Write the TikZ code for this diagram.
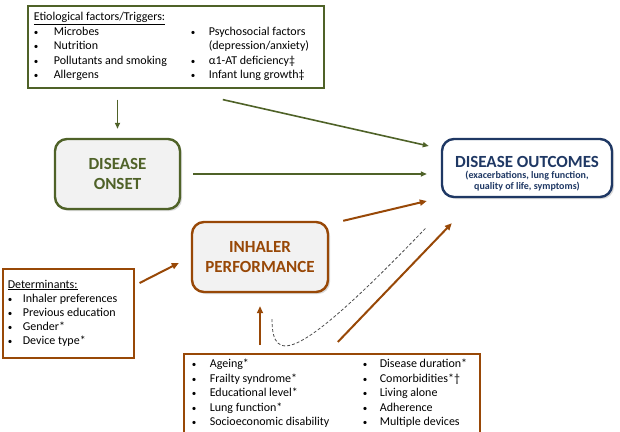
\documentclass[tikz,border=0pt]{standalone}
\usepackage{fontspec}
\setmainfont{Carlito}
\usetikzlibrary{arrows.meta,shadows}
\definecolor{olivegreen}{HTML}{4F6228}
\definecolor{rustbrown}{HTML}{984807}
\definecolor{navyblue}{HTML}{1F3864}
\definecolor{boxgray}{HTML}{F2F2F2}
\newcommand{\itembul}{{\fontsize{9}{9}\selectfont •}}

\begin{document}
\begin{tikzpicture}[x=1pt, y=-1pt,
    listbox/.style={draw, line width=1.6pt, anchor=north west, text=black, inner xsep=0pt},
    roundbox/.style={draw, rounded corners=12pt, line width=2.4pt, fill=boxgray, align=center,
        font=\bfseries\fontsize{17}{20}\selectfont,
        drop shadow={opacity=0.3, shadow xshift=2pt, shadow yshift=-2pt}},
    garrow/.style={draw=olivegreen, line width=1.6pt, -{Triangle[length=6pt,width=5pt]}},
    barrow/.style={draw=rustbrown, line width=2pt, -{Triangle[length=7pt,width=6pt]}}]
    \useasboundingbox (0, 0) rectangle (620, 431);

    \node[listbox, draw=olivegreen, inner xsep=6pt, inner ysep=4.5pt,
        font=\fontsize{12}{14.6}\selectfont] (etio) at (27, 5) {%
        \begin{tabular}{@{}p{20pt}@{}p{137pt}@{}p{18pt}@{}p{109pt}@{}}
            \multicolumn{4}{@{}l@{}}{\underline{Etiological factors/Triggers:}}\\
            \itembul & Microbes & \itembul & Psychosocial factors\\
            \itembul & Nutrition & & (depression/anxiety)\\
            \itembul & Pollutants and smoking & \itembul & α1-AT deficiency‡\\
            \itembul & Allergens & \itembul & Infant lung growth‡
        \end{tabular}};

    \node[listbox, draw=rustbrown, inner xsep=5pt, inner ysep=9.5pt,
        font=\fontsize{12}{14}\selectfont] (determ) at (2, 268) {%
        \begin{tabular}{@{}p{15pt}@{}p{106pt}@{}}
            \multicolumn{2}{@{}l@{}}{\underline{Determinants:}}\\
            \itembul & Inhaler preferences\\
            \itembul & Previous education\\
            \itembul & Gender*\\
            \itembul & Device type*
        \end{tabular}};

    \node[listbox, draw=rustbrown, inner xsep=8pt, inner ysep=4pt,
        font=\fontsize{12}{14.4}\selectfont] (factors) at (183, 353) {%
        \begin{tabular}{@{}p{18pt}@{}p{153pt}@{}p{17pt}@{}p{92pt}@{}}
            \itembul & Ageing* & \itembul & Disease duration*\\
            \itembul & Frailty syndrome* & \itembul & Comorbidities*†\\
            \itembul & Educational level* & \itembul & Living alone\\
            \itembul & Lung function* & \itembul & Adherence\\
            \itembul & Socioeconomic disability & \itembul & Multiple devices
        \end{tabular}};

    \node[roundbox, draw=olivegreen, text=olivegreen, minimum width=125pt,
        minimum height=70pt] (onset) at (117.5, 174) {DISEASE\\ONSET};
    \node[roundbox, draw=rustbrown, text=rustbrown, minimum width=136pt,
        minimum height=70pt] (inhaler) at (260, 257) {INHALER\\PERFORMANCE};
    \node[roundbox, draw=navyblue, text=navyblue, fill=white, minimum width=170pt,
        minimum height=58pt] (outcomes) at (527, 168)
        {\rule{0pt}{23pt}DISEASE OUTCOMES\\[-9pt]{\fontsize{10}{11}\selectfont (exacerbations, lung function,}\\[-9pt]
        {\fontsize{10}{11}\selectfont quality of life, symptoms)}};

    \draw[garrow, shorten <=11pt, shorten >=9pt] (etio.south -| onset) -- (onset.north);
    \draw[garrow] ([xshift=47pt, yshift=-11pt]etio.south) -- ([xshift=-12pt, yshift=22pt]outcomes.west);
    \draw[garrow, shorten <=12pt, shorten >=14pt] (onset.east) -- (onset.east -| outcomes.west);

    \draw[barrow] ([xshift=14pt]inhaler.north east) -- ([xshift=-14pt, yshift=-33pt]outcomes.west);
    \draw[barrow] ([xshift=5pt, yshift=-15pt]determ.north east) -- ([xshift=-12pt, yshift=-6pt]inhaler.west);
    \draw[barrow, shorten <=8pt, shorten >=13pt] (factors.north -| inhaler.south) -- (inhaler.south);
    \draw[barrow] ([xshift=6pt, yshift=11pt]factors.north) -- ([xshift=11pt, yshift=-25pt]outcomes.south west);

    \coordinate (dashstart) at ([xshift=12pt, yshift=-26pt]inhaler.south);
    \coordinate (dashend) at ([xshift=-15pt, yshift=-60pt]outcomes.west);
    \draw[gray!60!black, line width=0.8pt, dash pattern=on 3pt off 2pt]
        (dashstart) .. controls +(0, 47) and +(-127, 132) .. (dashend);
\end{tikzpicture}
\end{document}
